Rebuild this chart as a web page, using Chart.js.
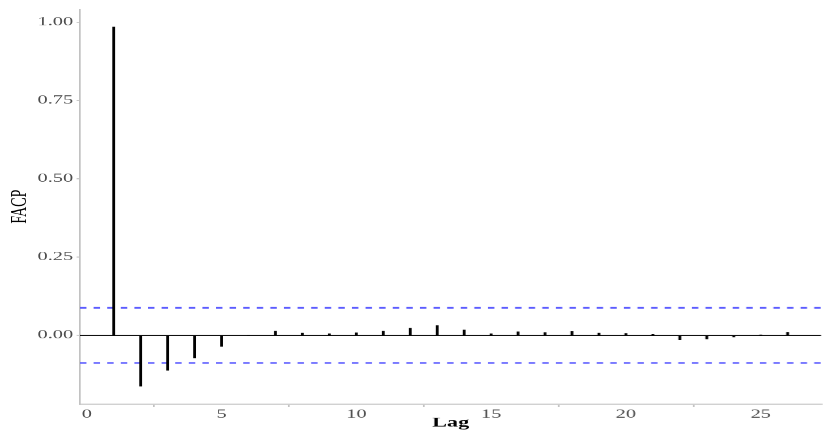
<!DOCTYPE html>
<html><head><meta charset="utf-8">
<script src="https://cdn.jsdelivr.net/npm/chart.js@4.4.1/dist/chart.umd.min.js"></script>
<style>
html,body{margin:0;padding:0;background:#fff;overflow:hidden;}
#wrap{position:absolute;left:0;top:0;width:484.118px;height:433px;transform:scaleX(1.7);transform-origin:0 0;}
</style></head><body>
<div id="wrap"><canvas id="c"></canvas></div>
<script>
const lags = [1,2,3,4,5,6,7,8,9,10,11,12,13,14,15,16,17,18,19,20,21,22,23,24,25,26];
const facp = [0.984,-0.162,-0.111,-0.072,-0.035,0.000,0.013,0.007,0.005,0.008,0.013,0.023,0.031,
              0.017,0.005,0.011,0.009,0.012,0.007,0.006,0.003,-0.014,-0.011,-0.005,0.001,0.010];
const ciBound = 0.088;
const xTickValues = [0,5,10,15,20,25];
const yTickValues = [0,0.25,0.5,0.75,1];
const xTitle = 'Lag';
const yTitle = 'FACP';

// ggplot-like 5% expansion of the data range
const xSpan = Math.max(...lags) - Math.min(...lags);
const xMin = Math.min(...lags) - 0.05*xSpan, xMax = Math.max(...lags) + 0.05*xSpan;
const ySpan = Math.max(...facp) - Math.min(...facp);
const yMin = Math.min(...facp) - 0.05*ySpan, yMax = Math.max(...facp) + 0.05*ySpan;

const SERIF = '"Liberation Serif", "DejaVu Serif", serif';
const AXIS_GREY = '#c2c2c2';
const CI_BLUE = '#5c5cff';

new Chart(document.getElementById('c'), {
  data: {
    datasets: [
      { type:'line', data:[{x:xMin,y:0},{x:xMax,y:0}], borderColor:'#000', borderWidth:1, pointRadius:0, order:3 },
      { type:'line', data:[{x:xMin,y:ciBound},{x:xMax,y:ciBound}], borderColor:CI_BLUE, borderWidth:1.7, borderDash:[3.8,4.2], pointRadius:0, order:2 },
      { type:'line', data:[{x:xMin,y:-ciBound},{x:xMax,y:-ciBound}], borderColor:CI_BLUE, borderWidth:1.7, borderDash:[3.8,4.2], pointRadius:0, order:2 },
      { type:'bar', data: lags.map((l,i)=>({x:l,y:facp[i]})), backgroundColor:'#000', borderWidth:0, barThickness:1.0, order:1 }
    ]
  },
  options: {
    responsive:true, maintainAspectRatio:false, devicePixelRatio:1.7, animation:false,
    layout:{ padding:{ top:8, left:0, right:0, bottom:0 } },
    plugins:{ legend:{display:false}, tooltip:{enabled:false} },
    scales:{
      x:{
        type:'linear', min:xMin, max:xMax, offset:false,
        afterBuildTicks: s => { s.ticks = xTickValues.map(v=>({value:v})); },
        afterFit: s => { s.height = 29; },
        grid:{ display:true, drawOnChartArea:false, drawTicks:true, tickLength:3, color:AXIS_GREY, lineWidth:1 },
        border:{ display:true, color:AXIS_GREY, width:1 },
        ticks:{ autoSkip:false, maxRotation:0, padding:0, color:'#4d4d4d', font:{family:SERIF, size:12}, callback:v=>String(v) },
        title:{ display:true, text:xTitle, color:'#000', font:{family:SERIF, size:13, weight:'bold'}, padding:{top:0,bottom:2} }
      },
      y:{
        type:'linear', min:yMin, max:yMax,
        afterBuildTicks: s => { s.ticks = yTickValues.map(v=>({value:v})); },
        afterFit: s => { s.width = 80/1.7; },
        grid:{ display:true, drawOnChartArea:false, drawTicks:true, tickLength:2, color:AXIS_GREY, lineWidth:1 },
        border:{ display:true, color:AXIS_GREY, width:1 },
        ticks:{ padding:2, color:'#4d4d4d', font:{family:SERIF, size:12}, callback:v=>Number(v).toFixed(2) },
        title:{ display:true, text:yTitle, color:'#000', font:{family:SERIF, size:14}, padding:{top:3,bottom:3} }
      }
    }
  }
});
</script>
</body></html>
